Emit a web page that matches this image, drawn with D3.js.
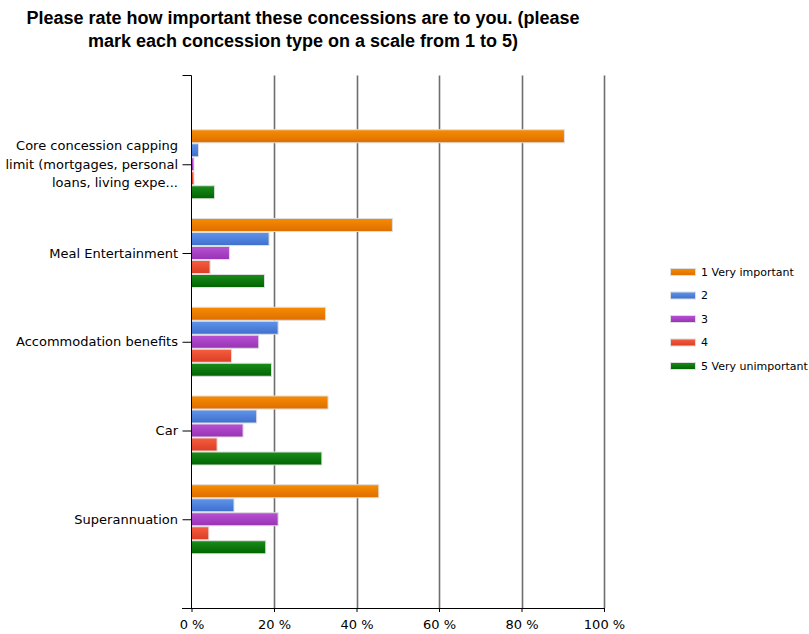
<!DOCTYPE html>
<html><head><meta charset="utf-8">
<script src="https://cdn.jsdelivr.net/npm/d3@7"></script>
<style>
html,body{margin:0;padding:0;background:#fff;}
svg{display:block;}
</style>
</head><body>
<svg id="chart" width="809" height="634"></svg>
<script>
const categories = [
  ["Core concession capping", "limit (mortgages, personal", "loans, living expe..."],
  ["Meal Entertainment"],
  ["Accommodation benefits"],
  ["Car"],
  ["Superannuation"]
];
const seriesNames = ["1 Very important", "2", "3", "4", "5 Very unimportant"];
const s1 = [90.4, 48.7, 32.5, 33.1, 45.4];
const s2 = [1.7, 18.8, 21.0, 15.8, 10.3];
const s3 = [0.6, 9.2, 16.3, 12.5, 21.0];
const s4 = [0.6, 4.5, 9.7, 6.2, 4.2];
const s5 = [5.6, 17.7, 19.4, 31.6, 18.0];
const seriesValues = [s1, s2, s3, s4, s5];
const xTicks = [0, 20, 40, 60, 80, 100];
const titleLines = ["Please rate how important these concessions are to you. (please", "mark each concession type on a scale from 1 to 5)"];

const colors = [
  ["#f78c00", "#de6e00"],
  ["#6094ea", "#3e6fcd"],
  ["#b851d3", "#9833b6"],
  ["#f65d3f", "#db3d24"],
  ["#1b8c1b", "#006400"]
];

const svg = d3.select("#chart");
const defs = svg.append("defs");
colors.forEach((c, i) => {
  const g = defs.append("linearGradient").attr("id", "g" + i)
    .attr("x1", 0).attr("y1", 0).attr("x2", 0).attr("y2", 1);
  g.append("stop").attr("offset", "0%").attr("stop-color", c[0]);
  g.append("stop").attr("offset", "100%").attr("stop-color", c[1]);
});

const x = d3.scaleLinear().domain([0, 100]).range([191.5, 604]);
const yTop = 75.5, yBot = 608;
const y = d3.scalePoint().domain(d3.range(categories.length)).range([yTop, yBot]).padding(1);
const barStep = 14;
const nS = seriesNames.length;

const labelFont = "'DejaVu Sans', Verdana, sans-serif";

// title
svg.append("g").selectAll("text").data(titleLines).join("text")
  .attr("x", 303).attr("y", (d, i) => 24 + i * 23)
  .attr("text-anchor", "middle")
  .attr("font-family", "'Liberation Sans', Arial, sans-serif")
  .attr("font-weight", "bold").attr("font-size", 18).attr("fill", "#000")
  .text(d => d);

// gridlines
svg.append("g").selectAll("line").data(xTicks.slice(1)).join("line")
  .attr("x1", d => Math.round(x(d)) + 0.5).attr("x2", d => Math.round(x(d)) + 0.5)
  .attr("y1", yTop).attr("y2", yBot)
  .attr("stroke", "#6e6e6e").attr("stroke-width", 1.6);

// bars
const groups = svg.append("g").selectAll("g").data(categories.map((c, i) => i)).join("g");
groups.each(function(ci) {
  const g = d3.select(this);
  const y0 = y(ci) - nS * barStep / 2;
  seriesValues.forEach((vals, si) => {
    g.append("rect")
      .attr("x", x(0))
      .attr("y", y0 + si * barStep + 0.5)
      .attr("width", Math.max(0, x(vals[ci]) - x(0)))
      .attr("height", barStep - 1)
      .attr("fill", "url(#g" + si + ")")
      .attr("stroke", "#dedede").attr("stroke-width", 1);
  });
});

// bottom axis
const xAxis = d3.axisBottom(x).tickValues(xTicks).tickSize(4).tickSizeOuter(0).tickFormat(d => d + " %");
const gx = svg.append("g").attr("transform", `translate(0,${yBot})`).call(xAxis);
gx.select(".domain").attr("d", `M182,0.5H${x(100)}`).attr("stroke", "#000");
gx.selectAll(".tick line").attr("stroke", "#000");
gx.selectAll(".tick text").attr("font-family", labelFont).attr("font-size", 13).attr("fill", "#000")
  .attr("y", 12).attr("dy", "0.71em");

// left axis
const yAxis = d3.axisLeft(y).tickSize(9).tickSizeOuter(0).tickFormat(() => "");
const gy = svg.append("g").attr("transform", `translate(${x(0)},0)`).call(yAxis);
gy.select(".domain").attr("d", `M-9,${yTop}H0V${yBot}`).attr("stroke", "#000");
gy.selectAll(".tick line").attr("stroke", "#000");

// category labels
categories.forEach((lines, ci) => {
  const n = lines.length;
  svg.append("g").selectAll("text").data(lines).join("text")
    .attr("x", 178)
    .attr("y", (d, i) => y(ci) + (i - (n - 1) / 2) * 18.5)
    .attr("dy", "0.35em")
    .attr("text-anchor", "end")
    .attr("font-family", labelFont).attr("font-size", 13).attr("fill", "#000")
    .text(d => d);
});

// legend
const leg = svg.append("g").selectAll("g").data(seriesNames).join("g")
  .attr("transform", (d, i) => `translate(670,${272 + i * 23.5})`);
leg.append("rect").attr("x", 0.5).attr("y", -3.5).attr("width", 25).attr("height", 7)
  .attr("fill", (d, i) => "url(#g" + i + ")").attr("stroke", "#dedede");
leg.append("text").attr("x", 31).attr("y", 0).attr("dy", "0.35em")
  .attr("font-family", labelFont).attr("font-size", 11).attr("fill", "#000")
  .text(d => d);
</script>
</body></html>
